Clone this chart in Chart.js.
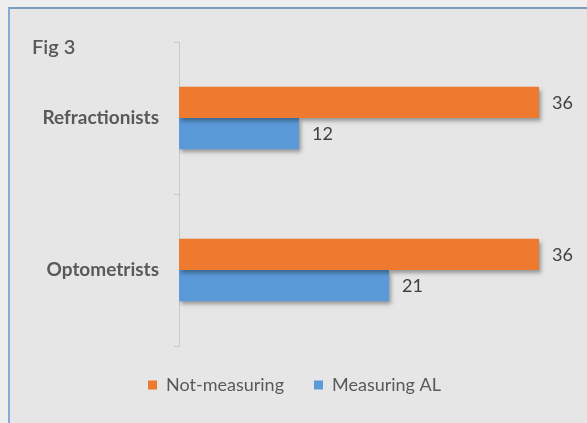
<!DOCTYPE html>
<html>
<head>
<meta charset="utf-8">
<script src="https://cdn.jsdelivr.net/npm/chart.js@4/dist/chart.umd.min.js"></script>
<style>
    body { margin: 0; background: #eeeeee; }
    #frame {
        position: absolute; left: 8px; top: 7px;
        width: 577px; height: 414px;
        border-left: 2px solid #86acd6;
        border-top: 2px solid #7d9cbd;
        background: #e6e6e6;
    }
</style>
</head>
<body>
<div id="frame"><canvas id="fig" width="577" height="414"></canvas></div>
<script>
const categories = ["Refractionists", "Optometrists"];
const notMeasuring = [36, 36];
const measuringAL = [12, 21];
const seriesNames = ["Not-measuring", "Measuring AL"];
const figTitle = "Fig 3";

const FONT = "Lato, 'Open Sans', sans-serif";

// drop shadow under the bars
const barShadow = {
    id: "barShadow",
    beforeDatasetsDraw(chart) {
        const c = chart.ctx;
        c.save();
        c.shadowColor = "rgba(0,0,0,0.35)";
        c.shadowBlur = 4;
        c.shadowOffsetX = 2;
        c.shadowOffsetY = 3;
    },
    afterDatasetsDraw(chart) {
        chart.ctx.restore();
    }
};

// value labels at the end of each bar + figure caption
const valueLabels = {
    id: "valueLabels",
    afterDraw(chart) {
        const c = chart.ctx;
        c.save();
        c.font = "18px " + FONT;
        c.fillStyle = "#404040";
        c.textBaseline = "middle";
        chart.data.datasets.forEach((ds, i) => {
            chart.getDatasetMeta(i).data.forEach((bar, j) => {
                c.fillText(ds.data[j], bar.x + 13, bar.y + 1);
            });
        });
        c.font = "600 20px " + FONT;
        c.fillStyle = "#595959";
        c.fillText(figTitle, 22, 39);
        c.restore();
    }
};

new Chart(document.getElementById("fig"), {
    type: "bar",
    data: {
        labels: categories,
        datasets: [
            { label: seriesNames[0], data: notMeasuring, backgroundColor: "#ee7a30" },
            { label: seriesNames[1], data: measuringAL, backgroundColor: "#5a9ad9" }
        ]
    },
    options: {
        indexAxis: "y",
        responsive: false,
        animation: false,
        categoryPercentage: 0.41,
        barPercentage: 1,
        layout: { padding: { top: 33, right: 8, left: 0, bottom: 19 } },
        scales: {
            x: { display: false, min: 0, max: 40 },
            y: {
                afterFit: s => { s.width = 169; },
                grid: { drawOnChartArea: false, offset: true, tickLength: 5, color: "#c9c9c9" },
                border: { color: "#c9c9c9" },
                ticks: { padding: 15, color: "#595959", font: { family: FONT, size: 19, weight: "bold" } }
            }
        },
        plugins: {
            legend: {
                position: "bottom",
                labels: {
                    boxWidth: 9, boxHeight: 9, padding: 30,
                    color: "#595959",
                    font: { family: FONT, size: 18 }
                }
            },
            tooltip: { enabled: false }
        }
    },
    plugins: [barShadow, valueLabels]
});
</script>
</body>
</html>
